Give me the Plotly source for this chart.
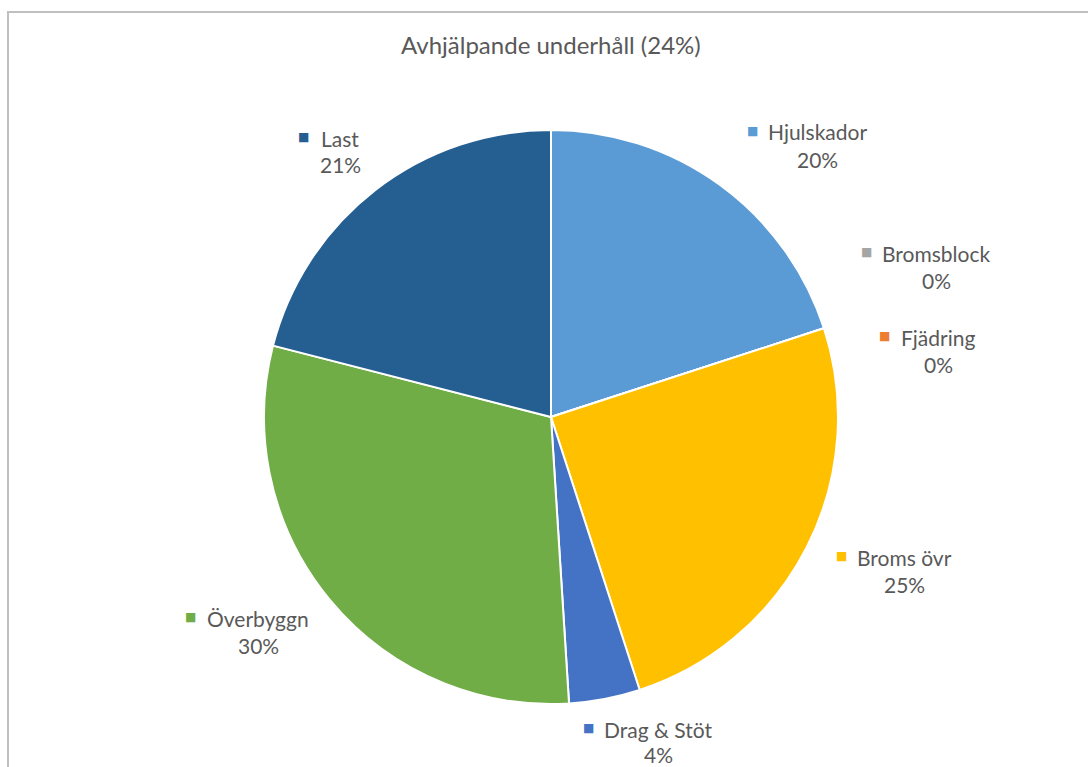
import plotly.graph_objects as go

# Corrective maintenance breakdown by cause
categories = ["Hjulskador", "Bromsblock", "Fjädring", "Broms övr", "Drag & Stöt", "Överbyggn", "Last"]
shares = [20, 0, 0, 25, 4, 30, 21]
colors = ["#5B9BD5", "#A5A5A5", "#ED7D31", "#FFC000", "#4472C4", "#70AD47", "#255E91"]
title_text = "Avhjälpande underhåll (24%)"

W, H = 1088, 767
FONT = "Lato"
GREY = "#595959"


def px(x):
    return x / W


def py(y):
    return 1 - y / H


fig = go.Figure(
    go.Pie(
        labels=categories,
        values=shares,
        marker=dict(colors=colors, line=dict(color="white", width=2)),
        sort=False,
        direction="clockwise",
        rotation=0,
        textinfo="none",
        hoverinfo="label+percent",
        showlegend=False,
        domain=dict(x=[px(551 - 287), px(551 + 287)], y=[py(417 + 287), py(417 - 287)]),
    )
)

# label anchor points: (name centre x, name centre y, marker x, line gap)
label_pos = {
    "Last": (340, 138, 303, 27),
    "Hjulskador": (817, 132, 752, 27),
    "Bromsblock": (936, 253, 866, 27),
    "Fjädring": (938, 337, 884, 27),
    "Broms övr": (904, 557, 841, 27),
    "Överbyggn": (258, 618, 190, 27),
    "Drag & Stöt": (658, 729, 588, 25),
}

annotations = []
for name, val, col in zip(categories, shares, colors):
    cx, cy, mx, gap = label_pos[name]
    annotations.append(dict(
        x=px(cx), y=py(cy), xref="paper", yref="paper", xanchor="center", yanchor="middle",
        text=name, showarrow=False, font=dict(family=FONT, size=21, color=GREY),
    ))
    annotations.append(dict(
        x=px(cx), y=py(cy + gap), xref="paper", yref="paper", xanchor="center", yanchor="middle",
        text=f"{val:.0f}%", showarrow=False, font=dict(family=FONT, size=21, color=GREY),
    ))
    annotations.append(dict(
        x=px(mx), y=py(cy - 1), xref="paper", yref="paper", xanchor="center", yanchor="middle",
        text="■", showarrow=False, font=dict(family="DejaVu Sans", size=12, color=col),
    ))

annotations.append(dict(
    x=px(551), y=py(44), xref="paper", yref="paper", xanchor="center", yanchor="middle",
    text=title_text, showarrow=False, font=dict(family=FONT, size=24, color=GREY),
))

fig.update_layout(
    width=W,
    height=H,
    margin=dict(l=0, r=0, t=0, b=0),
    paper_bgcolor="white",
    plot_bgcolor="white",
    annotations=annotations,
    shapes=[dict(
        type="rect", xref="paper", yref="paper",
        x0=px(8), x1=1.02, y0=-0.02, y1=py(12),
        line=dict(color="#BFBFBF", width=2), fillcolor="rgba(0,0,0,0)",
    )],
)

fig.write_html("out.html")
